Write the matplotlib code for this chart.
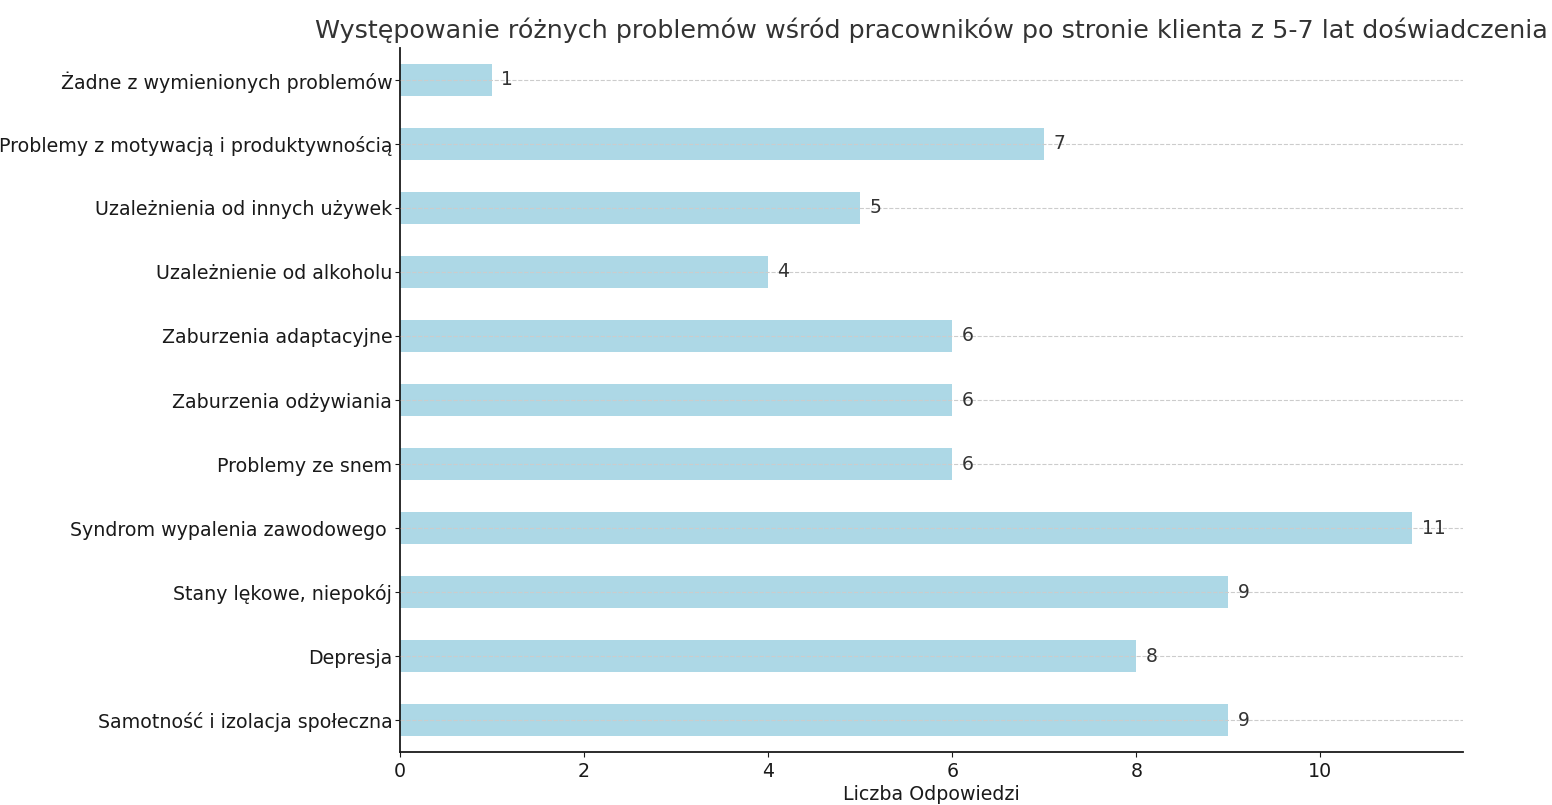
import matplotlib
matplotlib.use("Agg")
from matplotlib import pyplot as plt

problems = [
    "Samotność i izolacja społeczna",
    "Depresja",
    "Stany lękowe, niepokój",
    "Syndrom wypalenia zawodowego ",
    "Problemy ze snem",
    "Zaburzenia odżywiania",
    "Zaburzenia adaptacyjne",
    "Uzależnienie od alkoholu",
    "Uzależnienia od innych używek",
    "Problemy z motywacją i produktywnością",
    "Żadne z wymienionych problemów",
]
counts = [9, 8, 9, 11, 6, 6, 6, 4, 5, 7, 1]

fig, ax = plt.subplots(figsize=(15.52, 8.05), dpi=100)
positions = list(range(len(problems)))
ax.barh(positions, counts, height=0.5, color="lightblue", zorder=1)
ax.set_yticks(positions)
ax.set_yticklabels(problems)
ax.set_ylim(-0.5, len(problems) - 0.5)

for pos, val in zip(positions, counts):
    ax.text(val + 0.1, pos, str(val), va="center", ha="left",
            fontsize=13.5, color="#333333", zorder=3)

ax.grid(axis="y", linestyle="--", color="#cccccc", linewidth=0.8, zorder=2)
ax.set_axisbelow(False)
ax.spines["top"].set_visible(False)
ax.spines["right"].set_visible(False)
for s in ("left", "bottom"):
    ax.spines[s].set_linewidth(1.3)
    ax.spines[s].set_color("#1a1a1a")

ax.tick_params(axis="both", labelsize=13.7, colors="#1a1a1a")
ax.tick_params(axis="y", pad=2)
ax.set_xlabel("Liczba Odpowiedzi", fontsize=13.7, color="#1a1a1a", labelpad=3)
ax.set_title("Występowanie różnych problemów wśród pracowników po stronie klienta z 5-7 lat doświadczenia",
             fontsize=18.3, color="#333333", pad=7)

fig.subplots_adjust(left=0.2577, right=0.9427, top=0.9404, bottom=0.0658)
fig.savefig("out.png", dpi=100)
